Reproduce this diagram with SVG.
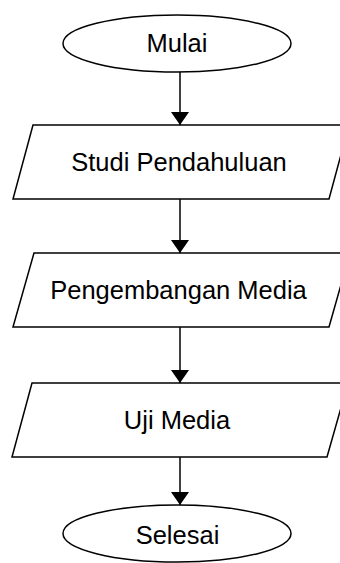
<svg xmlns="http://www.w3.org/2000/svg" width="340" height="563" viewBox="0 0 340 563">
<style>
.s{fill:#fff;stroke:#000;stroke-width:1.5}
.t{font-family:"Liberation Sans",Arial,sans-serif;font-size:25.5px;fill:#000;text-anchor:middle}
.c{stroke:#000;stroke-width:1.5;fill:none;marker-end:url(#a)}
</style>
<defs>
<marker id="a" markerUnits="userSpaceOnUse" markerWidth="14" markerHeight="20" refX="13" refY="9" orient="auto">
<path d="M0,0 L13,9 L0,18 Z" fill="#000"/>
</marker>
</defs>
<rect width="340" height="563" fill="#fff"/>
<g id="connectors">
<line class="c" x1="180" y1="72" x2="180" y2="125"/>
<line class="c" x1="180" y1="199" x2="180" y2="253"/>
<line class="c" x1="180" y1="327" x2="180" y2="383"/>
<line class="c" x1="180" y1="457" x2="180" y2="505"/>
</g>
<g id="mulai">
<ellipse class="s" cx="177" cy="43.5" rx="114" ry="28.5"/>
<text class="t" x="177" y="52">Mulai</text>
</g>
<g id="studi">
<polygon class="s" points="33,125 349,125 329,199 13,199"/>
<text class="t" x="179" y="171">Studi Pendahuluan</text>
</g>
<g id="pengembangan">
<polygon class="s" points="34,253 350,253 329,327 13,327"/>
<text class="t" x="178.5" y="299">Pengembangan Media</text>
</g>
<g id="uji">
<polygon class="s" points="32,383 348,383 327,457 12,457"/>
<text class="t" x="177" y="429">Uji Media</text>
</g>
<g id="selesai">
<ellipse class="s" cx="177" cy="533.5" rx="114" ry="28.5"/>
<text class="t" x="177.5" y="544">Selesai</text>
</g>
</svg>
